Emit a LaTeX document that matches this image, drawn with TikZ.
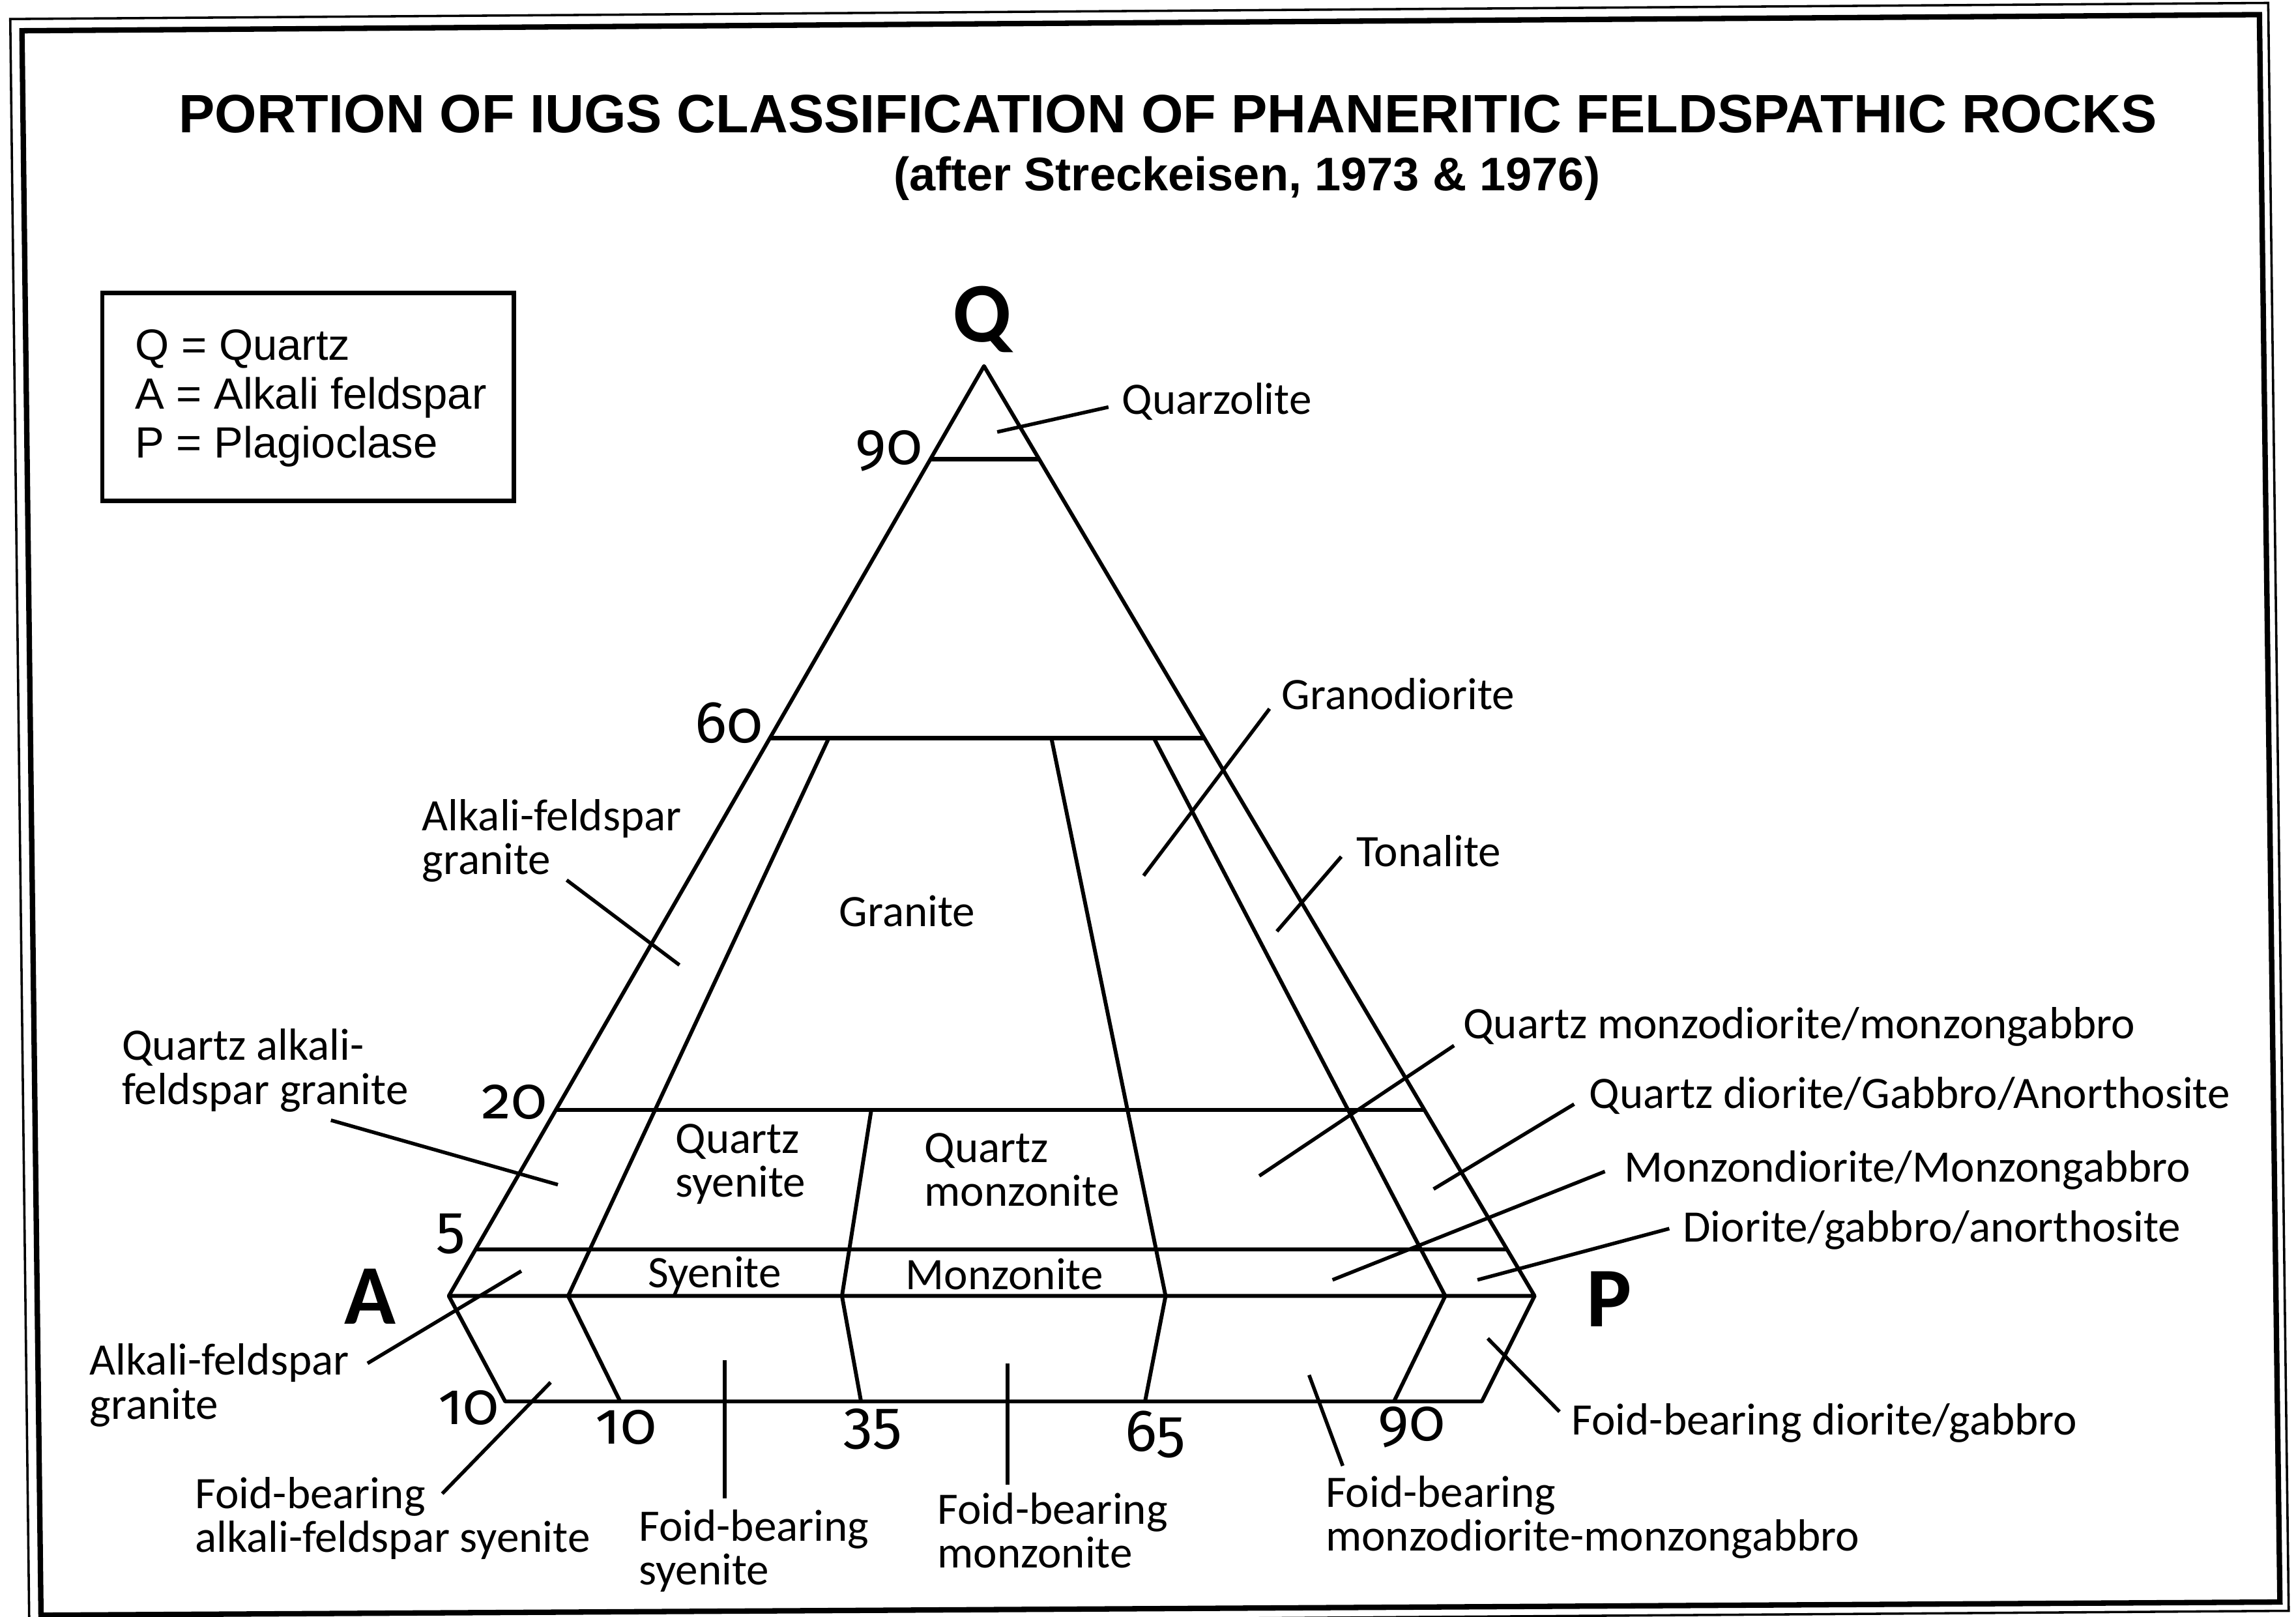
\documentclass[tikz,border=0pt]{standalone}
\usepackage{fontspec}
\setmainfont{Liberation Sans}
\newfontfamily\calfont{Carlito}
\newfontfamily\numfont[Numbers=OldStyle]{Fira Sans}
\usetikzlibrary{calc}

\tikzset{
    % Rock field label style
    rock/.style={
        font=\fontsize{17.5}{17}\selectfont\calfont,
        inner sep=0pt,
        align=left
    },
    % Label placed to the right of its leader
    callout/.style={rock, anchor=west},
    % Percent numbers along the edges
    pct/.style={
        font=\fontsize{23}{23}\selectfont\numfont,
        inner sep=0pt,
        anchor=base
    },
    % Apex letters
    apex/.style={
        font=\fontsize{33}{33}\selectfont\calfont\bfseries,
        inner sep=0pt
    },
    % Line styles
    field/.style={line width=1.5pt, line join=round},
    tie/.style={line width=1.6pt},
    leader/.style={line width=1.4pt}
}

\begin{document}
\begin{tikzpicture}[x=0.02cm, y=-0.02cm]
    \useasboundingbox (0,0) rectangle (1568,1104);

    % Page frame
    \draw[line width=0.9pt] (7,13) -- (1549,2) -- (1563,1100) -- (20,1111) -- cycle;
    \draw[line width=2.1pt] (15,21) -- (1543,10) -- (1557,1094) -- (28,1103) -- cycle;

    % Title
    \node[font=\fontsize{21}{25}\selectfont\bfseries, inner sep=0pt] (title) at (797.5,78)
        {PORTION OF IUGS CLASSIFICATION OF PHANERITIC FELDSPATHIC ROCKS};
    \node[font=\fontsize{18.3}{22}\selectfont\bfseries, inner sep=0pt] (subtitle) at (851.5,122)
        {(after Streckeisen, 1973 \& 1976)};

    % Key
    \draw[line width=1.6pt] (70,200) rectangle (351,342);
    \node[font=\fontsize{17}{19}\selectfont, inner sep=0pt, anchor=west, align=left] (key) at (92,272)
        {Q = Quartz\\A = Alkali feldspar\\P = Plagioclase};

    % Corners
    \coordinate (Q) at (672,250);
    \coordinate (A) at (306.5,885);
    \coordinate (P) at (1048,885);
    \coordinate (FA) at (345,957);
    \coordinate (FP) at (1012,957);
    \node[apex] (Qlab) at (671,218) {Q};
    \node[apex] (Alab) at (253,885.5) {A};
    \node[apex] (Plab) at (1099,887) {P};

    % Outline
    \draw[field] (Q) -- (A) -- (P) -- cycle;
    \draw[field] (A) -- (FA) -- (FP) -- (P);

    % Quartz levels
    \foreach \t/\n in {0.1/90, 0.4/60, 0.8/20, 0.95/5} {
        \coordinate (a\n) at ($(Q)!\t!(A)$);
        \coordinate (p\n) at ($(Q)!\t!(P)$);
        \draw[tie] (a\n) -- (p\n);
    }

    % Field boundaries
    \foreach \xa/\ya/\xb/\xc in {566/504/388/423.5, 595/758/575/588, 718/504/796/782, 788/504/987/952}
        \draw[field] (\xa,\ya) -- (\xb,885) -- (\xc,957);

    % Numbers
    \node[pct] (n90) at (607,317) {90};
    \node[pct] (n60) at (498,507) {60};
    \node[pct] (n20) at (351.5,764) {20};
    \node[pct] (n5) at (308,851.5) {5};
    \node[pct] (nf10) at (320,972.5) {10};
    \node[pct] (b10) at (427.5,986) {10};
    \node[pct] (b35) at (596,985) {35};
    \node[pct] (b65) at (789,991) {65};
    \node[pct] (b90) at (964,984) {90};

    % Field names
    \node[rock, anchor=center] (granite) at (619.5,622) {Granite};
    \node[rock, anchor=west] (qsyenite) at (461,795) {Quartz\\syenite};
    \node[rock, anchor=west] (qmonzonite) at (631,799) {Quartz\\monzonite};
    \node[rock, anchor=center] (syenite) at (488,871) {Syenite};
    \node[rock, anchor=center] (monzonite) at (686,870) {Monzonite};

    % Callouts
    \node[callout] (quarzolite) at (766,274) {Quarzolite};
    \node[callout] (granodiorite) at (875,474) {Granodiorite};
    \node[callout] (tonalite) at (926,581) {Tonalite};
    \node[callout] (afgranite) at (288,574) {Alkali-feldspar\\granite};
    \node[callout] (qafgranite) at (83,731) {Quartz alkali-\\feldspar granite};
    \node[callout] (qmonzodiorite) at (999,701) {Quartz monzodiorite/monzongabbro};
    \node[callout] (qdiorite) at (1085,748) {Quartz diorite/Gabbro/Anorthosite};
    \node[callout] (monzodiorite) at (1109,799) {Monzondiorite/Monzongabbro};
    \node[callout] (diorite) at (1149,840) {Diorite/gabbro/anorthosite};
    \node[callout] (afgranite2) at (61,946) {Alkali-feldspar\\granite};
    \node[callout] (fbafsyenite) at (133,1037) {Foid-bearing\\alkali-feldspar syenite};
    \node[callout] (fbsyenite) at (436,1059) {Foid-bearing\\syenite};
    \node[callout] (fbmonzonite) at (640,1045) {Foid-bearing\\monzonite};
    \node[callout] (fbmonzodiorite) at (905,1036) {Foid-bearing\\monzodiorite-monzongabbro};
    \node[callout] (fbdiorite) at (1073,972) {Foid-bearing diorite/gabbro};

    % Leader ends
    \coordinate (qzl-in) at (681,295);      \coordinate (qzl-out) at (757,278);
    \coordinate (gdi-in) at (781,598);      \coordinate (gdi-out) at (867,484);
    \coordinate (ton-in) at (872,636);      \coordinate (ton-out) at (916,585);
    \coordinate (afg-in) at (464,659);      \coordinate (afg-out) at (387,601);
    \coordinate (qafg-in) at (381,809);     \coordinate (qafg-out) at (226,765);
    \coordinate (qmd-in) at (860,803);      \coordinate (qmd-out) at (993,714);
    \coordinate (qdg-in) at (979,812);      \coordinate (qdg-out) at (1075,754);
    \coordinate (mzd-in) at (910,874);      \coordinate (mzd-out) at (1096,800);
    \coordinate (dga-in) at (1009,874);     \coordinate (dga-out) at (1140,839);
    \coordinate (afg2-in) at (356,868);     \coordinate (afg2-out) at (251,931);
    \coordinate (fbafs-in) at (376,944);    \coordinate (fbafs-out) at (302,1020);
    \coordinate (fbs-in) at (495,929);      \coordinate (fbs-out) at (495,1023);
    \coordinate (fbm-in) at (688,931);      \coordinate (fbm-out) at (688,1014);
    \coordinate (fbmm-in) at (894,939);     \coordinate (fbmm-out) at (917,1001);
    \coordinate (fdg-in) at (1016,914);     \coordinate (fdg-out) at (1065,964);

    % Leaders
    \foreach \n in {qzl, gdi, ton, afg, qafg, qmd, qdg, mzd, dga, afg2, fbafs, fbs, fbm, fbmm, fdg}
        \draw[leader] (\n-in) -- (\n-out);

\end{tikzpicture}
\end{document}
